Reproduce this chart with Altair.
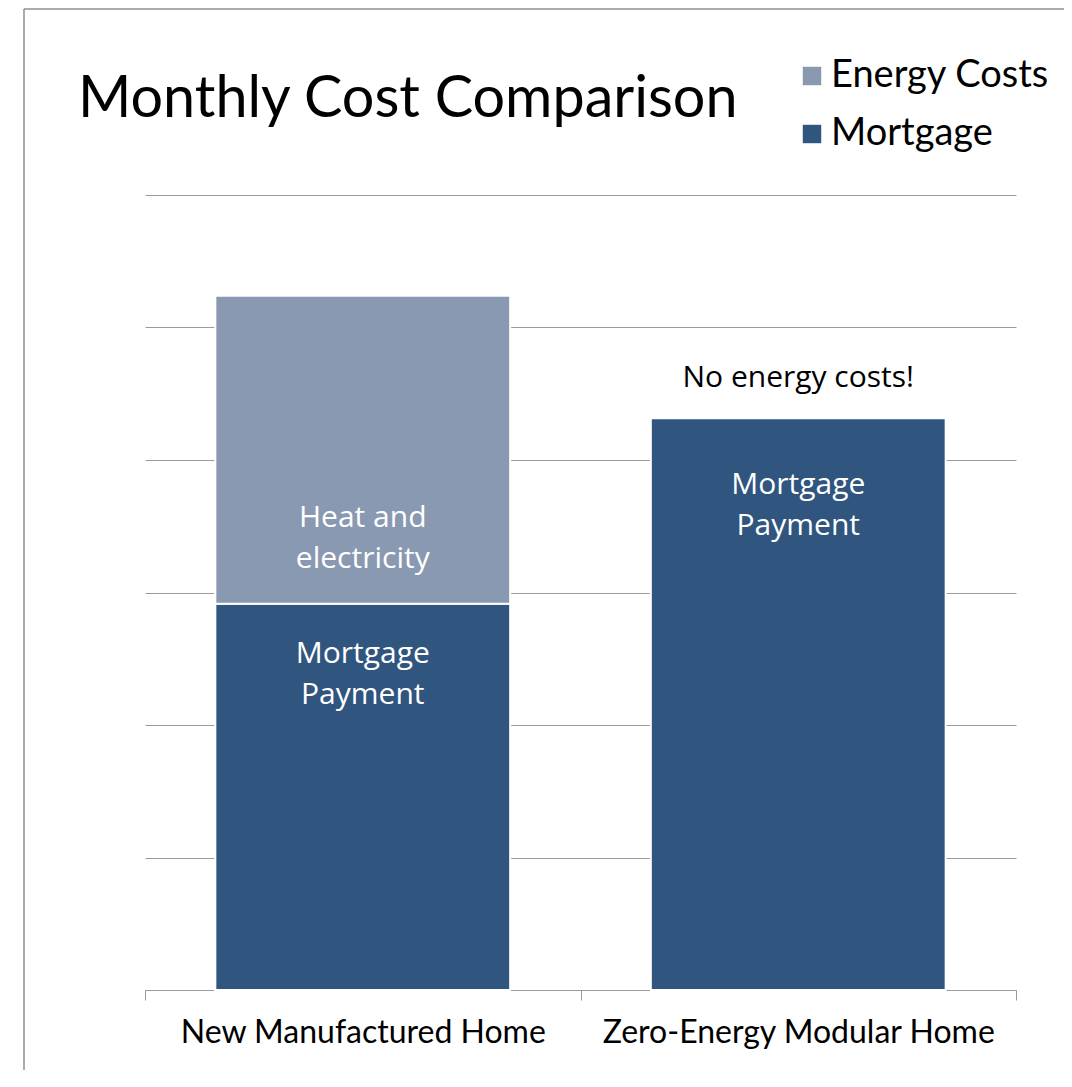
import altair as alt
import pandas as pd

# ---- data ----
categories = ["New Manufactured Home", "Zero-Energy Modular Home"]
mortgage = [583, 863]
energy = [465, 0]
series = ["Energy Costs", "Mortgage"]
colors = ["#8A99B2", "#30557F"]
y_ticks = [0, 200, 400, 600, 800, 1000, 1200]

title_text = "Monthly Cost Comparison"
energy_label = "Heat and\nelectricity"
mortgage_label = "Mortgage\nPayment"
note_label = "No energy costs!"

rows = []
for c, m, e in zip(categories, mortgage, energy):
    rows.append({"category": c, "series": "Mortgage", "value": m, "order": 0})
    if e > 0:
        rows.append({"category": c, "series": "Energy Costs", "value": e, "order": 1})
bars_df = pd.DataFrame(rows)

GRAY = "#9a9a9a"

x_enc = alt.X(
    "category:N",
    sort=categories,
    scale=alt.Scale(paddingInner=0, paddingOuter=0),
    axis=alt.Axis(
        title=None, labelAngle=0, labelFont="Lato", labelFontSize=32,
        labelColor="black", labelPadding=17, tickSize=10, tickColor=GRAY,
        domainColor=GRAY, tickBand="extent", labelLimit=0,
    ),
)
y_scale = alt.Scale(domain=[0, 1200], nice=False)
y_axis = alt.Axis(title=None, values=y_ticks, grid=True, gridColor=GRAY,
                  gridWidth=1, labels=False, ticks=False, domain=False)

bars = alt.Chart(bars_df).mark_bar(
    stroke="white", strokeWidth=2, width=alt.RelativeBandSize(0.677)
).encode(
    x=x_enc,
    y=alt.Y("value:Q", stack="zero", scale=y_scale, axis=y_axis),
    color=alt.Color(
        "series:N",
        scale=alt.Scale(domain=series, range=colors),
        legend=alt.Legend(
            title=None, orient="none", legendX=648, legendY=-138,
            symbolType="square", symbolSize=340, symbolStrokeWidth=0,
            labelFont="Lato", labelFontSize=38, labelColor="black",
            labelOffset=0, rowPadding=20, labelLimit=0,
        ),
    ),
    order=alt.Order("order:Q"),
)

def text_layer(df, dy, color):
    return alt.Chart(df).mark_text(
        font="Open Sans", fontSize=30, color=color, align="center",
        baseline="alphabetic", lineBreak="\n", lineHeight=41, dy=dy,
    ).encode(
        x=alt.X("category:N", sort=categories),
        y=alt.Y("ypos:Q", scale=y_scale, axis=y_axis),
        text="label:N",
    )

energy_df = pd.DataFrame({"category": [categories[0]], "ypos": [mortgage[0]], "label": [energy_label]})
m1_df = pd.DataFrame({"category": [categories[0]], "ypos": [mortgage[0]], "label": [mortgage_label]})
m2_df = pd.DataFrame({"category": [categories[1]], "ypos": [mortgage[1] + energy[1]], "label": [mortgage_label]})
note_df = pd.DataFrame({"category": [categories[1]], "ypos": [mortgage[1] + energy[1]], "label": [note_label]})

t_energy = text_layer(energy_df, -77, "white")
t_m1 = text_layer(m1_df, 59, "white")
t_m2 = text_layer(m2_df, 76, "white")
t_note = text_layer(note_df, -31, "black")

one = pd.DataFrame({"t": [title_text]})
title = alt.Chart(one).mark_text(
    font="Lato", fontSize=57.5, color="black", align="left", baseline="alphabetic"
).encode(x=alt.value(-67), y=alt.value(-78), text="t:N")

frame_top = alt.Chart(one).mark_rule(color="#8f8f8f", strokeWidth=1.5).encode(
    x=alt.value(-121), x2=alt.value(930), y=alt.value(-186))
frame_left = alt.Chart(one).mark_rule(color="#8f8f8f", strokeWidth=1.5).encode(
    x=alt.value(-121), y=alt.value(-186), y2=alt.value(900))

chart = alt.layer(bars, t_energy, t_m1, t_m2, t_note, title, frame_top, frame_left).properties(
    width=871, height=795,
    autosize=alt.AutoSizeParams(type="none"),
    padding={"left": 137, "top": 187, "right": 48, "bottom": 80},
).configure(background="white").configure_view(stroke=None)

chart.save("out.html", embed_options={"renderer": "svg", "actions": False})
